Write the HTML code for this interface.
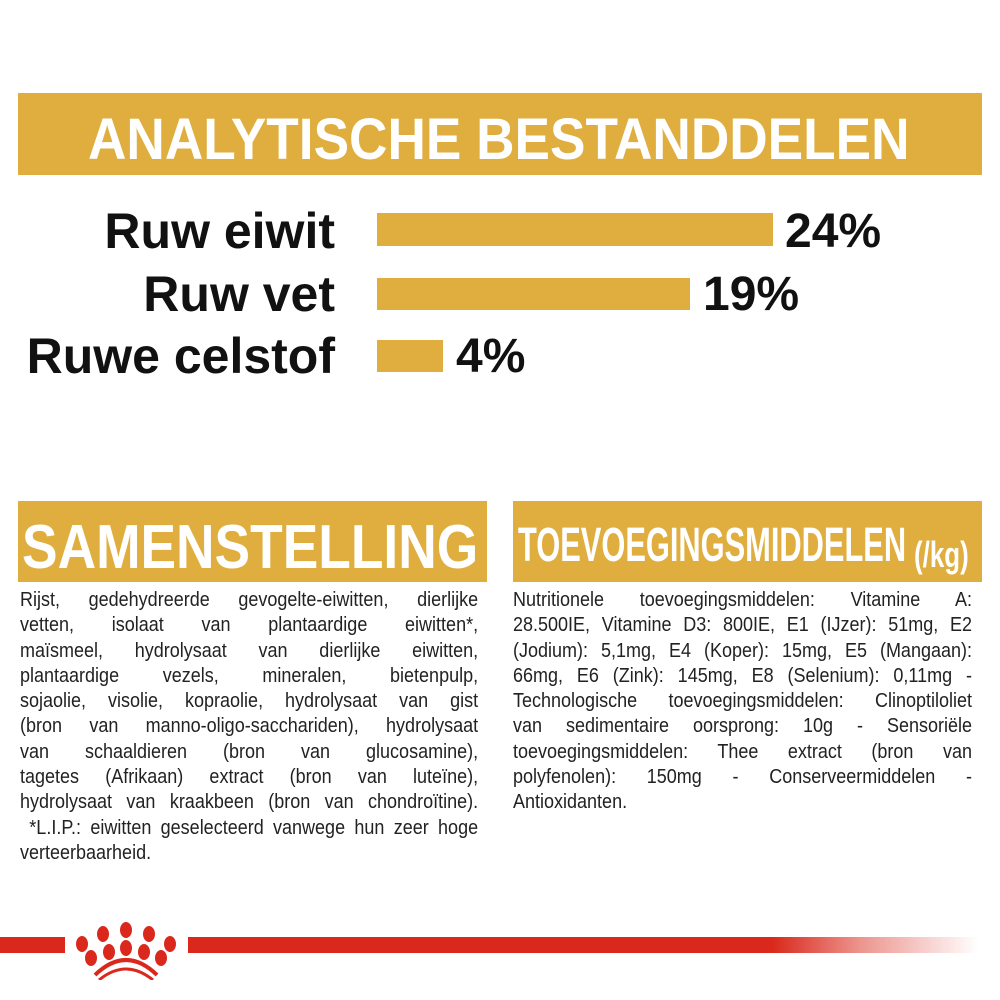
<!DOCTYPE html>
<html><head><style>
body{margin:0;width:1000px;height:1000px;background:#fff;position:relative;overflow:hidden;font-family:"Liberation Sans",sans-serif}
.a{position:absolute}
.gold{background:#DFAE3E}
.lbl{position:absolute;right:665px;font-weight:bold;font-size:50px;color:#111;line-height:1;white-space:nowrap}
.pct{position:absolute;font-weight:bold;font-size:48px;color:#111;line-height:1}
.txt{position:absolute;font-size:20px;line-height:25.3px;color:#222;transform:scaleX(0.9);transform-origin:left top}
.txt div{text-align:justify;text-align-last:justify;white-space:nowrap}
.txt div.l{text-align-last:left}
.h{position:absolute;color:#fff;font-weight:bold;white-space:nowrap;transform-origin:left top;line-height:1}
</style></head><body>
<div class="a gold" style="left:18px;top:93px;width:964px;height:82px"></div>
<div class="h" style="left:88px;top:111px;font-size:58px;transform:scaleX(0.917)">ANALYTISCHE BESTANDDELEN</div>

<div class="lbl" style="top:206px">Ruw eiwit</div>
<div class="a gold" style="left:377px;top:213px;width:396px;height:33px"></div>
<div class="pct" style="left:785px;top:208px">24%</div>
<div class="lbl" style="top:269px">Ruw vet</div>
<div class="a gold" style="left:377px;top:278px;width:313px;height:32px"></div>
<div class="pct" style="left:703px;top:271px">19%</div>
<div class="lbl" style="top:331px">Ruwe celstof</div>
<div class="a gold" style="left:377px;top:340px;width:66px;height:32px"></div>
<div class="pct" style="left:456px;top:333px">4%</div>

<div class="a gold" style="left:18px;top:501px;width:469px;height:81px"></div>
<div class="h" style="left:22px;top:517px;font-size:62px;transform:scaleX(0.86)">SAMENSTELLING</div>
<div class="a gold" style="left:513px;top:501px;width:469px;height:81px"></div>
<div class="h" style="left:518px;top:522px;font-size:48px;transform:scaleX(0.642)">TOEVOEGINGSMIDDELEN</div>
<div class="h" style="left:914px;top:537px;font-size:36px;transform:scaleX(0.72)">(/kg)</div>

<div class="txt" style="left:20px;top:588px;width:509px">
<div>Rijst, gedehydreerde gevogelte-eiwitten, dierlijke</div>
<div>vetten, isolaat van plantaardige eiwitten*,</div>
<div>maïsmeel, hydrolysaat van dierlijke eiwitten,</div>
<div>plantaardige vezels, mineralen, bietenpulp,</div>
<div>sojaolie, visolie, kopraolie, hydrolysaat van gist</div>
<div>(bron van manno-oligo-sacchariden), hydrolysaat</div>
<div>van schaaldieren (bron van glucosamine),</div>
<div>tagetes (Afrikaan) extract (bron van luteïne),</div>
<div>hydrolysaat van kraakbeen (bron van chondroïtine).</div>
<div>&nbsp;*L.I.P.: eiwitten geselecteerd vanwege hun zeer hoge</div>
<div class="l">verteerbaarheid.</div>
</div>
<div class="txt" style="left:513px;top:588px;width:510px">
<div>Nutritionele toevoegingsmiddelen: Vitamine A:</div>
<div>28.500IE, Vitamine D3: 800IE, E1 (IJzer): 51mg, E2</div>
<div>(Jodium): 5,1mg, E4 (Koper): 15mg, E5 (Mangaan):</div>
<div>66mg, E6 (Zink): 145mg, E8 (Selenium): 0,11mg -</div>
<div>Technologische toevoegingsmiddelen: Clinoptiloliet</div>
<div>van sedimentaire oorsprong: 10g - Sensoriële</div>
<div>toevoegingsmiddelen: Thee extract (bron van</div>
<div>polyfenolen): 150mg - Conserveermiddelen -</div>
<div class="l">Antioxidanten.</div>
</div>

<div class="a" style="left:0;top:937px;width:65px;height:16px;background:#DA291C"></div>
<div class="a" style="left:188px;top:937px;width:790px;height:16px;background:linear-gradient(to right,#DA291C 0%,#DA291C 74%,rgba(218,41,28,0.5) 85%,rgba(218,41,28,0) 100%)"></div>
<svg class="a" style="left:60px;top:910px" width="130" height="70" viewBox="60 910 130 70">
<g fill="#DA291C">
<ellipse cx="82" cy="944" rx="6" ry="8"/>
<ellipse cx="103" cy="934" rx="6" ry="8"/>
<ellipse cx="126" cy="930" rx="6" ry="8"/>
<ellipse cx="149" cy="934" rx="6" ry="8"/>
<ellipse cx="170" cy="944" rx="6" ry="8"/>
<ellipse cx="91" cy="958" rx="6" ry="8"/>
<ellipse cx="109" cy="952" rx="6" ry="8"/>
<ellipse cx="126" cy="948" rx="6" ry="8"/>
<ellipse cx="144" cy="952" rx="6" ry="8"/>
<ellipse cx="161" cy="958" rx="6" ry="8"/>
</g>
<path d="M95 975 Q126 945 157 975" stroke="#DA291C" stroke-width="4" fill="none"/>
<path d="M99 980 Q126 958 153 980" stroke="#DA291C" stroke-width="3" fill="none"/>
</svg>
</body></html>
